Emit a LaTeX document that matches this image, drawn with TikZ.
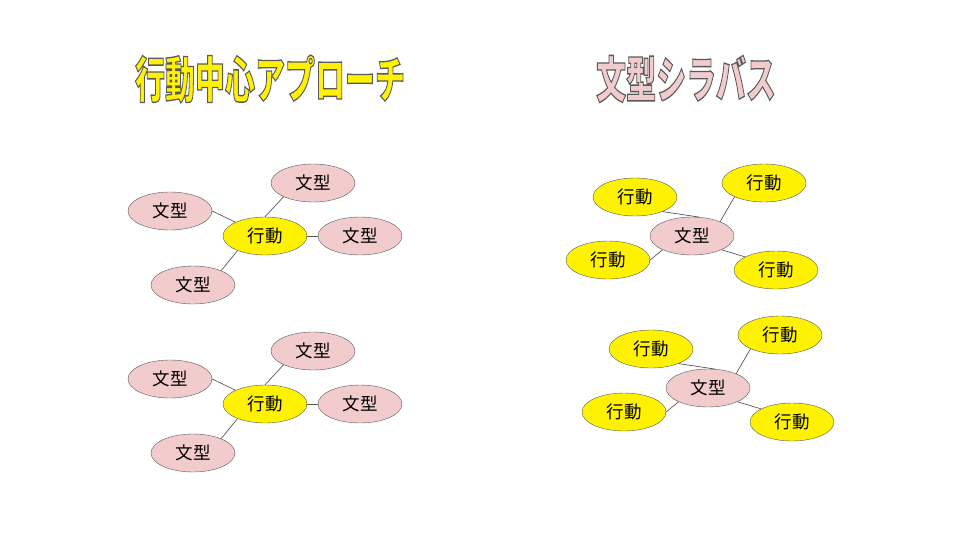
\documentclass[tikz,border=0pt]{standalone}
\usepackage{fontspec}
\usepackage{graphicx}
\usetikzlibrary{shapes.geometric}
\setmainfont{Noto Sans CJK JP}
\definecolor{pinkfill}{HTML}{F2CCCC}
\definecolor{edgegray}{HTML}{595959}
\newcommand{\nodefont}{\fontsize{17.5}{20}\selectfont}
\newcommand{\titlefont}{\fontsize{30}{34}\selectfont\bfseries}
% outlined text: fill + stroke render mode
\newcommand{\outlined}[2]{\color{#1}\special{pdf:literal direct 0.35 0.35 0.35 RG 0.8 w 2 Tr}#2\special{pdf:literal direct 0 Tr}}

\begin{document}
\begin{tikzpicture}[x=1pt,y=-1pt,
	bunkei/.style={ellipse,draw=edgegray,fill=pinkfill,minimum width=84pt,minimum height=38pt,inner sep=0pt,font=\nodefont},
	kodo/.style={bunkei,fill=yellow},
	link/.style={draw=edgegray,line width=0.7pt}]
	\useasboundingbox (0,0) rectangle (960,540);

	% titles
	\node (titleL) at (270,79) {\titlefont\scalebox{1}[1.65]{\outlined{yellow}{行動中心アプローチ}}};
	\node (titleR) at (686,79) {\titlefont\scalebox{1}[1.65]{\outlined{pinkfill}{文型シラバス}}};

	% left, upper
	\node[kodo] (kA) at (265,236) {行動};
	\node[bunkei] (bA1) at (313,183) {文型};
	\node[bunkei] (bA2) at (170,211) {文型};
	\node[bunkei] (bA3) at (360,236) {文型};
	\node[bunkei] (bA4) at (193,285) {文型};

	% left, lower
	\node[kodo] (kB) at (265,404) {行動};
	\node[bunkei] (bB1) at (313,351) {文型};
	\node[bunkei] (bB2) at (170,379) {文型};
	\node[bunkei] (bB3) at (360,404) {文型};
	\node[bunkei] (bB4) at (193,453) {文型};

	% right, upper
	\node[bunkei] (bC) at (692,236) {文型};
	\node[kodo] (kC1) at (635,197) {行動};
	\node[kodo] (kC2) at (764,183) {行動};
	\node[kodo] (kC3) at (608,260) {行動};
	\node[kodo] (kC4) at (776,270) {行動};

	% right, lower
	\node[bunkei] (bD) at (708,388) {文型};
	\node[kodo] (kD1) at (651,349) {行動};
	\node[kodo] (kD2) at (780,335) {行動};
	\node[kodo] (kD3) at (624,412) {行動};
	\node[kodo] (kD4) at (792,422) {行動};

	%Links
	\draw[link] (kA.north) -- (bA1.205);
	\draw[link] (kA.155) -- (bA2.east);
	\draw[link] (kA.east) -- (bA3.west);
	\draw[link] (kA.208) -- (bA4.27);

	\draw[link] (kB.north) -- (bB1.205);
	\draw[link] (kB.155) -- (bB2.east);
	\draw[link] (kB.east) -- (bB3.west);
	\draw[link] (kB.208) -- (bB4.27);

	\draw[link] (bC.70) -- (kC1.-28);
	\draw[link] (bC.27) -- (kC2.205);
	\draw[link] (bC.205) -- (kC3.east);
	\draw[link] (bC.-25) -- (kC4.157);

	\draw[link] (bD.70) -- (kD1.-28);
	\draw[link] (bD.27) -- (kD2.205);
	\draw[link] (bD.205) -- (kD3.east);
	\draw[link] (bD.-25) -- (kD4.157);
\end{tikzpicture}
\end{document}
